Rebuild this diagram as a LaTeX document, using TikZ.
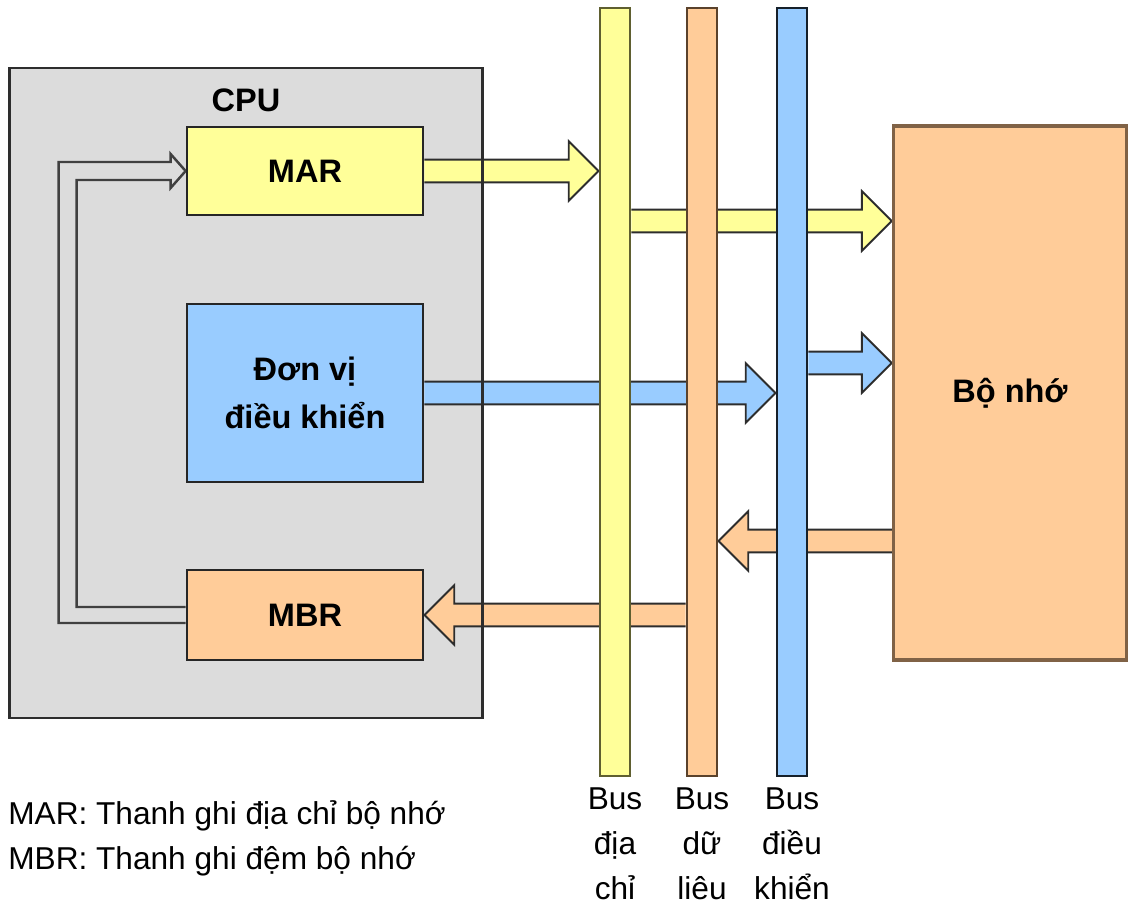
\documentclass[tikz,border=0pt]{standalone}
\usepackage{fontspec}
\setmainfont{Liberation Sans}
\usepackage{tikz}
\usetikzlibrary{calc, positioning, backgrounds}
\definecolor{cpugray}{RGB}{220, 220, 220}
\definecolor{regyellow}{RGB}{255, 255, 153}
\definecolor{ctrlblue}{RGB}{153, 204, 255}
\definecolor{dataorange}{RGB}{255, 204, 153}
\definecolor{darkframe}{RGB}{45, 45, 45}
\definecolor{memframe}{RGB}{128, 98, 70}
\definecolor{yellowframe}{RGB}{95, 95, 48}
\definecolor{orangeframe}{RGB}{90, 66, 44}
\definecolor{blueframe}{RGB}{22, 32, 42}

% block arrow: from, to (same height), fill colour
\newcommand{\blockarrow}[3]{%
  \draw[blockarrow, fill=#3] let \p1=(#1), \p2=(#2), \n1={sign(\x2-\x1)} in
    (\x1,{\y1+6.5pt}) -- ({\x2-(\n1)*17pt},{\y1+6.5pt}) -- ({\x2-(\n1)*17pt},{\y1+17pt})
    -- (\x2,\y1) -- ({\x2-(\n1)*17pt},{\y1-17pt}) -- ({\x2-(\n1)*17pt},{\y1-6.5pt}) -- (\x1,{\y1-6.5pt});}

\begin{document}
\begin{tikzpicture}[x=0.02cm, y=-0.02cm,
        cpubox/.style={rectangle, draw=darkframe, line width=1.6pt, minimum width=9.46cm, minimum height=13cm, inner sep=0pt},
        unit/.style={rectangle, draw=black!85, line width=1.6pt, minimum width=4.72cm, inner sep=0pt, align=center, font=\bfseries\fontsize{18.5}{27}\selectfont},
        bus/.style={rectangle, line width=1.6pt, minimum width=0.6cm, minimum height=15.36cm, inner sep=0pt},
        blockarrow/.style={draw=darkframe, line width=1.1pt, line join=miter},
        feedback/.style={draw=black!75, line width=1.4pt},
        buslabel/.style={align=center, inner sep=0pt, font=\fontsize{18}{25.5}\selectfont}
    ]
        \useasboundingbox (0,0) rectangle (1130,908);

        \node[cpubox] (cpu) at (246,393) {};
        \node[inner sep=0pt, font=\bfseries\fontsize{18.5}{20}\selectfont] (cputitle) at (246,100) {CPU};
        \node[unit, fill=regyellow, minimum height=1.76cm] (mar) at (305,171) {MAR};
        \node[unit, fill=ctrlblue, minimum height=3.56cm] (ctrl) at (305,393) {Đơn vị\\điều khiển};
        \node[unit, fill=dataorange, minimum height=1.8cm] (mbr) at (305,615) {MBR};

        \node[bus, fill=regyellow, draw=yellowframe] (busA) at (615,392) {};
        \node[bus, fill=dataorange, draw=orangeframe] (busD) at (702,392) {};
        \node[bus, fill=ctrlblue, draw=blueframe] (busC) at (792,392) {};
        \node[unit, fill=dataorange, draw=memframe, line width=2pt, minimum width=4.66cm, minimum height=10.68cm] (mem) at (1010,393) {Bộ nhớ};

        \node[buslabel, below=6pt of busA] (labA) {Bus\\địa\\chỉ};
        \node[buslabel, below=6pt of busD] (labD) {Bus\\dữ\\liêu};
        \node[buslabel, below=6pt of busC] (labC) {Bus\\điều\\khiển};
        \node[buslabel, align=left, anchor=west] (legend) at (8,838) {MAR: Thanh ghi địa chỉ bộ nhớ\\MBR: Thanh ghi đệm bộ nhớ};

        \coordinate (addrlvl) at (0,221);
        \coordinate (ctrllvl) at (0,363);
        \coordinate (datalvl) at (0,541);

        \begin{scope}[on background layer]
            \fill[cpugray] (cpu.south west) rectangle (cpu.north east);
            % MBR back to MAR
            \draw[feedback] ($(mbr.west)+(0,8)$) -| ($(mar.west)+(-127,-9)$) -- ($(mar.west)+(-15,-9)$)
                -- ($(mar.west)+(-15,-17)$) -- (mar.west) -- ($(mar.west)+(-15,17)$) -- ($(mar.west)+(-15,9)$)
                -| ($(mbr.west)+(-109,-8)$) -- ($(mbr.west)+(0,-8)$);
            \blockarrow{mar.east}{busA.west |- mar.east}{regyellow}
            \blockarrow{busA.east |- addrlvl}{mem.west |- addrlvl}{regyellow}
            \blockarrow{ctrl.east}{busC.west |- ctrl.east}{ctrlblue}
            \blockarrow{busC.east |- ctrllvl}{mem.west |- ctrllvl}{ctrlblue}
            \blockarrow{mem.west |- datalvl}{busD.east |- datalvl}{dataorange}
            \blockarrow{busD.west |- mbr.east}{mbr.east}{dataorange}
        \end{scope}
    \end{tikzpicture}
\end{document}
